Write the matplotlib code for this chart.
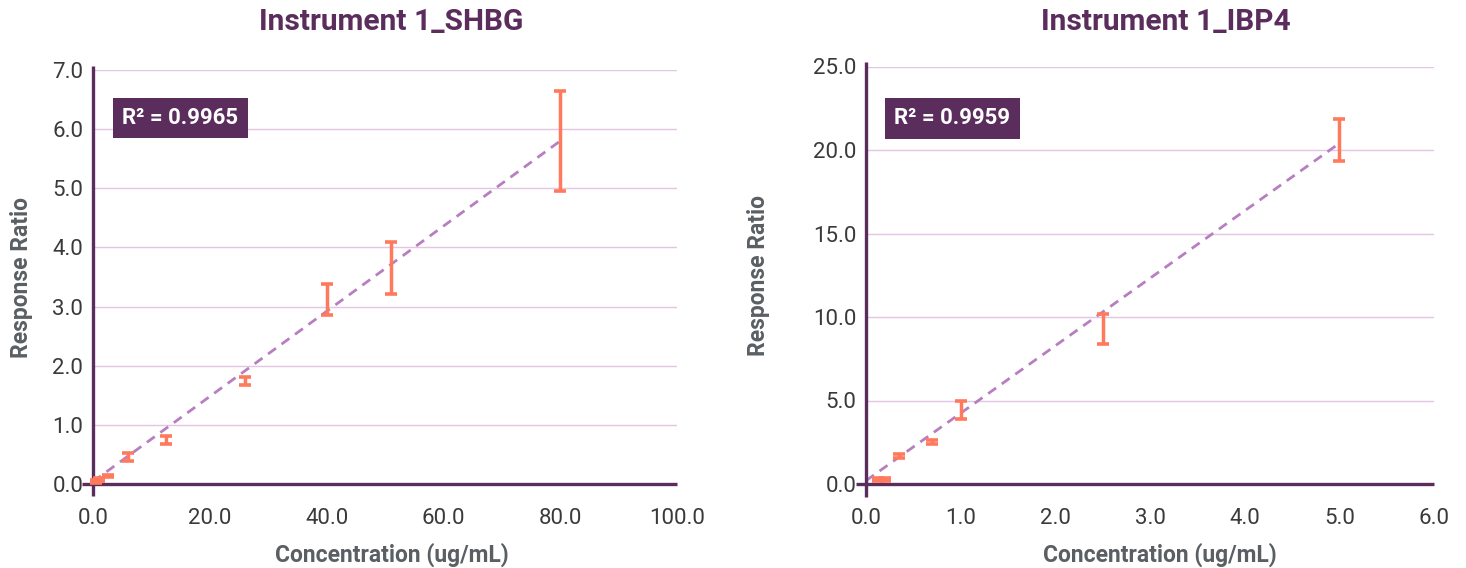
import matplotlib
matplotlib.use("Agg")
import matplotlib.pyplot as plt
import numpy as np
from matplotlib.ticker import FormatStrFormatter, MultipleLocator

plt.rcParams['font.family'] = ['Roboto', 'DejaVu Sans']

# SHBG data
shbg_conc = [0.5, 1.0, 2.5, 6.0, 12.5, 26.0, 40.0, 51.0, 80.0]
shbg_mean = [0.04, 0.075, 0.135, 0.455, 0.745, 1.74, 3.12, 3.65, 5.80]
shbg_err = [0.02, 0.03, 0.025, 0.065, 0.065, 0.07, 0.26, 0.44, 0.85]
shbg_fit = [0.04, 0.0720]  # intercept, slope
shbg_r2 = "R² = 0.9965"

# IBP4 data
ibp4_conc = [0.125, 0.2, 0.35, 0.7, 1.0, 2.5, 5.0]
ibp4_mean = [0.25, 0.25, 1.7, 2.5, 4.45, 9.3, 20.6]
ibp4_err = [0.1, 0.1, 0.12, 0.12, 0.55, 0.9, 1.25]
ibp4_fit = [0.2, 4.04]
ibp4_r2 = "R² = 0.9959"

titles = ["Instrument 1_SHBG", "Instrument 1_IBP4"]
xlabel = "Concentration (ug/mL)"
ylabel = "Response Ratio"

TITLE_C = "#5a2d5c"
AX_C = "#5a2d5c"
GRID_C = "#e3c6e3"
BAR_C = "#ff7a5c"
FIT_C = "#b77fc0"
TICK_C = "#3a3a3a"
LAB_C = "#5a5f63"

fig = plt.figure(figsize=(14.66, 5.68), dpi=100)
ax1 = fig.add_axes([93/1466, 84/568, 584/1466, 414/568])
ax2 = fig.add_axes([866/1466, 84/568, 568/1466, 417.5/568])

configs = [
    (ax1, shbg_conc, shbg_mean, shbg_err, shbg_fit, shbg_r2, (0, 100), (0, 7), 20, 1, titles[0], (0, 80), 0.884, 14, 0.511, 29, 0.512),
    (ax2, ibp4_conc, ibp4_mean, ibp4_err, ibp4_fit, ibp4_r2, (0, 6), (0, 25), 1, 5, titles[1], (0, 5), 0.876, 31, 0.528, 26.5, 0.517),
]

for ax, xs, ys, es, fit, r2, xl, yl, xstep, ystep, title, frange, r2y, ylp, tx, tpad, xlx in configs:
    ax.set_xlim(*xl)
    ax.set_ylim(*yl)
    ax.xaxis.set_major_locator(MultipleLocator(xstep))
    ax.yaxis.set_major_locator(MultipleLocator(ystep))
    ax.xaxis.set_major_formatter(FormatStrFormatter('%.1f'))
    ax.yaxis.set_major_formatter(FormatStrFormatter('%.1f'))
    ax.grid(axis='y', color=GRID_C, linewidth=1.0)
    ax.set_axisbelow(True)
    for s in ['top', 'right', 'left', 'bottom']:
        ax.spines[s].set_visible(False)
    # axis lines extending slightly past origin
    ax.plot([-0.018, 1], [0, 0], transform=ax.transAxes, color=AX_C, lw=2.4,
            clip_on=False, zorder=4, solid_capstyle='butt')
    ax.plot([0, 0], [-0.03, 1.01], transform=ax.transAxes, color=AX_C, lw=2.4,
            clip_on=False, zorder=4, solid_capstyle='butt')
    ax.tick_params(length=0, labelsize=16, labelcolor=TICK_C)
    ax.tick_params(axis='x', pad=17.5)
    ax.tick_params(axis='y', pad=7)
    # fit line
    fx = np.array(frange, dtype=float)
    ax.plot(fx, fit[0] + fit[1]*fx, linestyle=(0, (3.5, 2.5)), color=FIT_C, lw=2.0, zorder=3)
    ax.errorbar(xs, ys, yerr=es, fmt='none', ecolor=BAR_C, elinewidth=2.5,
                capsize=4.5, capthick=2.6, zorder=5, clip_on=False)
    ax.set_title(title, fontsize=21.5, fontweight='bold', color=TITLE_C, pad=tpad, x=tx)
    ax.set_xlabel(xlabel, fontsize=16.5, fontweight='bold', color=LAB_C, labelpad=9.5, x=xlx)
    ax.set_ylabel(ylabel, fontsize=16.5, fontweight='bold', color=LAB_C, labelpad=ylp)
    ax.text(0.05, r2y, r2, transform=ax.transAxes, fontsize=16, fontweight='bold',
            color='white', va='center', ha='left', zorder=6,
            bbox=dict(boxstyle='square,pad=0.42', facecolor=TITLE_C, edgecolor='none'))

fig.savefig("out.png", dpi=100)
